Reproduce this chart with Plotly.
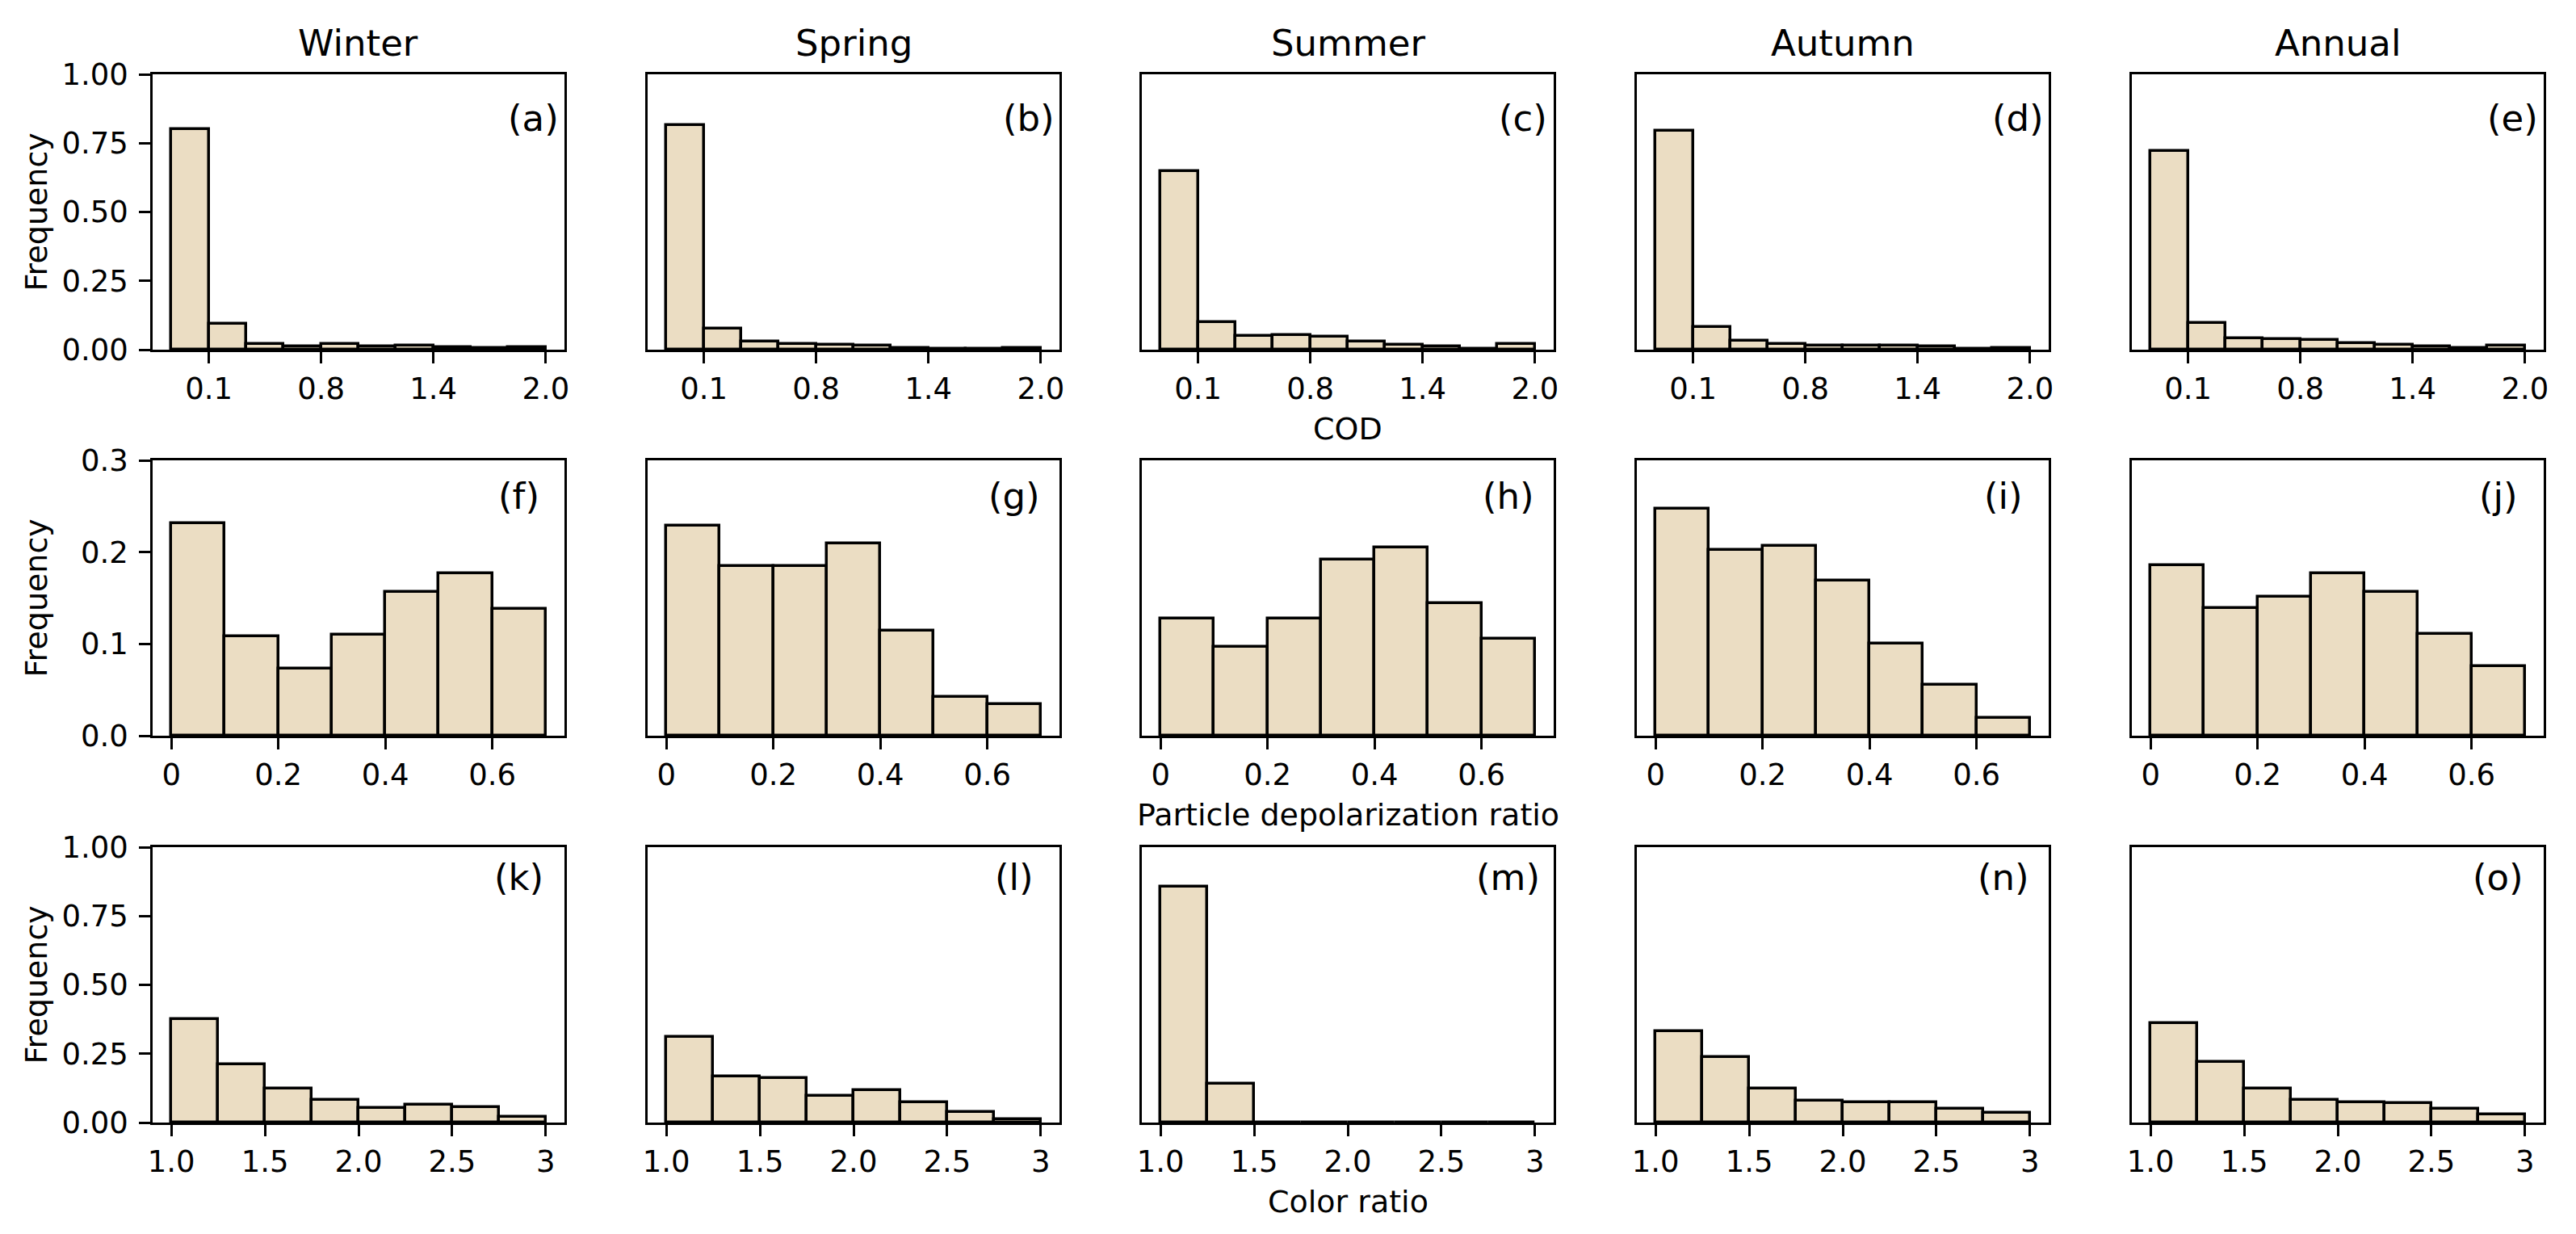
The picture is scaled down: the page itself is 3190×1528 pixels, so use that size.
import plotly.graph_objects as go

# ---------------- data ----------------
seasons = ["Winter", "Spring", "Summer", "Autumn", "Annual"]

cod_tick_labels = ["0.1", "0.8", "1.4", "2.0"]
cod_winter = [0.800, 0.095, 0.020, 0.012, 0.020, 0.013, 0.016, 0.009, 0.006, 0.008]
cod_spring = [0.815, 0.077, 0.030, 0.022, 0.018, 0.014, 0.006, 0.003, 0.002, 0.005]
cod_summer = [0.648, 0.100, 0.050, 0.053, 0.047, 0.030, 0.018, 0.011, 0.004, 0.020]
cod_autumn = [0.795, 0.081, 0.031, 0.022, 0.014, 0.014, 0.014, 0.011, 0.003, 0.006]
cod_annual = [0.720, 0.096, 0.041, 0.037, 0.034, 0.023, 0.017, 0.011, 0.006, 0.014]

pdr_edges = [0.0, 0.1, 0.2, 0.3, 0.4, 0.5, 0.6, 0.7]
pdr_tick_vals = [0.0, 0.2, 0.4, 0.6]
pdr_tick_labels = ["0", "0.2", "0.4", "0.6"]
pdr_winter = [0.231, 0.108, 0.073, 0.110, 0.157, 0.177, 0.138]
pdr_spring = [0.229, 0.185, 0.185, 0.209, 0.114, 0.042, 0.034]
pdr_summer = [0.128, 0.097, 0.128, 0.192, 0.205, 0.144, 0.106]
pdr_autumn = [0.247, 0.202, 0.207, 0.169, 0.100, 0.055, 0.019]
pdr_annual = [0.186, 0.139, 0.151, 0.177, 0.157, 0.111, 0.076]

cr_edges = [1.0, 1.25, 1.5, 1.75, 2.0, 2.25, 2.5, 2.75, 3.0]
cr_tick_vals = [1.0, 1.5, 2.0, 2.5, 3.0]
cr_tick_labels = ["1.0", "1.5", "2.0", "2.5", "3"]
cr_winter = [0.376, 0.212, 0.124, 0.081, 0.054, 0.065, 0.057, 0.021]
cr_spring = [0.310, 0.166, 0.160, 0.097, 0.117, 0.073, 0.038, 0.012]
cr_summer = [0.856, 0.142, 0.0, 0.0, 0.0, 0.0, 0.0, 0.0]
cr_autumn = [0.330, 0.237, 0.122, 0.078, 0.072, 0.072, 0.050, 0.034]
cr_annual = [0.362, 0.219, 0.122, 0.081, 0.072, 0.069, 0.050, 0.028]

panel_labels = ["(a)", "(b)", "(c)", "(d)", "(e)",
                "(f)", "(g)", "(h)", "(i)", "(j)",
                "(k)", "(l)", "(m)", "(n)", "(o)"]
row_xlabels = ["COD", "Particle depolarization ratio", "Color ratio"]

cod_rows = [cod_winter, cod_spring, cod_summer, cod_autumn, cod_annual]
pdr_rows = [pdr_winter, pdr_spring, pdr_summer, pdr_autumn, pdr_annual]
cr_rows = [cr_winter, cr_spring, cr_summer, cr_autumn, cr_annual]

# ---------------- layout geometry ----------------
W, H = 3190, 1528
col_left = [189, 802, 1414, 2027, 2640]
col_w = 510
row_top = [92, 570, 1049]
row_h = 341

FILL = "#EBDDC3"
FONT = "DejaVu Sans"

fig = go.Figure()
layout = {}
annotations = []

def centers(edges):
    return [(edges[i] + edges[i + 1]) / 2 for i in range(len(edges) - 1)]

def widths(edges):
    return [edges[i + 1] - edges[i] for i in range(len(edges) - 1)]

n_cod = len(cod_winter)
cod_edges = list(range(n_cod + 1))          # equal-width bins in bin-index space
cod_tick_vals = [1, 4, 7, 10]

row_specs = [
    dict(data=cod_rows, edges=cod_edges, tv=cod_tick_vals, tt=cod_tick_labels,
         yr=[0, 1.0], ytv=[0, 0.25, 0.5, 0.75, 1.0], ytt=["0.00", "0.25", "0.50", "0.75", "1.00"],
         lab_x=0.925, lab_y=55),
    dict(data=pdr_rows, edges=pdr_edges, tv=pdr_tick_vals, tt=pdr_tick_labels,
         yr=[0, 0.3], ytv=[0, 0.1, 0.2, 0.3], ytt=["0.0", "0.1", "0.2", "0.3"],
         lab_x=0.89, lab_y=44),
    dict(data=cr_rows, edges=cr_edges, tv=cr_tick_vals, tt=cr_tick_labels,
         yr=[0, 1.0], ytv=[0, 0.25, 0.5, 0.75, 1.0], ytt=["0.00", "0.25", "0.50", "0.75", "1.00"],
         lab_x=0.89, lab_y=37),
]

k = 0
for r, spec in enumerate(row_specs):
    e = spec["edges"]
    span = e[-1] - e[0]
    xr = [e[0] - 0.05 * span, e[-1] + 0.05 * span]
    for c in range(5):
        k += 1
        sfx = "" if k == 1 else str(k)
        fig.add_trace(go.Bar(
            x=centers(e), y=spec["data"][c], width=widths(e),
            marker=dict(color=FILL, line=dict(color="black", width=3.5)),
            xaxis="x" + sfx, yaxis="y" + sfx, showlegend=False, hoverinfo="skip",
        ))
        x0 = col_left[c] / W
        x1 = (col_left[c] + col_w) / W
        y1 = 1 - row_top[r] / H
        y0 = 1 - (row_top[r] + row_h) / H
        layout["xaxis" + sfx] = dict(
            domain=[x0, x1], anchor="y" + sfx, range=xr,
            tickmode="array", tickvals=spec["tv"], ticktext=spec["tt"],
            ticks="outside", ticklen=14, tickwidth=2.5, tickcolor="black",
            showline=True, linecolor="black", linewidth=2.5, mirror=True,
            showgrid=False, zeroline=False, fixedrange=True,
            tickfont=dict(family=FONT, size=37, color="black"),
        )
        ydict = dict(
            domain=[y0, y1], anchor="x" + sfx, range=spec["yr"],
            showline=True, linecolor="black", linewidth=2.5, mirror=True,
            showgrid=False, zeroline=False, fixedrange=True,
        )
        if c == 0:
            ydict.update(tickmode="array", tickvals=spec["ytv"], ticktext=spec["ytt"],
                         ticks="outside", ticklen=14, tickwidth=2.5, tickcolor="black",
                         tickfont=dict(family=FONT, size=37, color="black"),
                         ticklabelstandoff=6)
        else:
            ydict.update(showticklabels=False, ticks="")
        layout["yaxis" + sfx] = ydict

        annotations.append(dict(
            text=panel_labels[k - 1], xref="x" + sfx + " domain", yref="y" + sfx + " domain",
            x=spec["lab_x"], y=1 - spec["lab_y"] / row_h, xanchor="center", yanchor="middle",
            showarrow=False, font=dict(family=FONT, size=45, color="black"),
        ))
        if r == 0:
            annotations.append(dict(
                text=seasons[c], xref="paper", yref="paper",
                x=(col_left[c] + col_w / 2) / W, y=1 - 53 / H,
                xanchor="center", yanchor="middle", showarrow=False,
                font=dict(family=FONT, size=45, color="black"),
            ))
    # y label
    annotations.append(dict(
        text="Frequency", xref="paper", yref="paper",
        x=44 / W, y=1 - (row_top[r] + row_h / 2) / H, textangle=-90,
        xanchor="center", yanchor="middle", showarrow=False,
        font=dict(family=FONT, size=38, color="black"),
    ))
    # x label under middle column
    annotations.append(dict(
        text=row_xlabels[r], xref="paper", yref="paper",
        x=(col_left[2] + col_w / 2) / W, y=1 - (row_top[r] + row_h + 98) / H,
        xanchor="center", yanchor="middle", showarrow=False,
        font=dict(family=FONT, size=38, color="black"),
    ))

fig.update_layout(
    width=W, height=H, margin=dict(l=0, r=0, t=0, b=0, autoexpand=False),
    paper_bgcolor="white", plot_bgcolor="white", bargap=0,
    font=dict(family=FONT, color="black"), annotations=annotations,
    hovermode=False, **layout,
)

fig.write_html("out.html", config={"displayModeBar": False},
               post_script="document.body.style.margin='0';document.body.style.overflow='hidden';")
